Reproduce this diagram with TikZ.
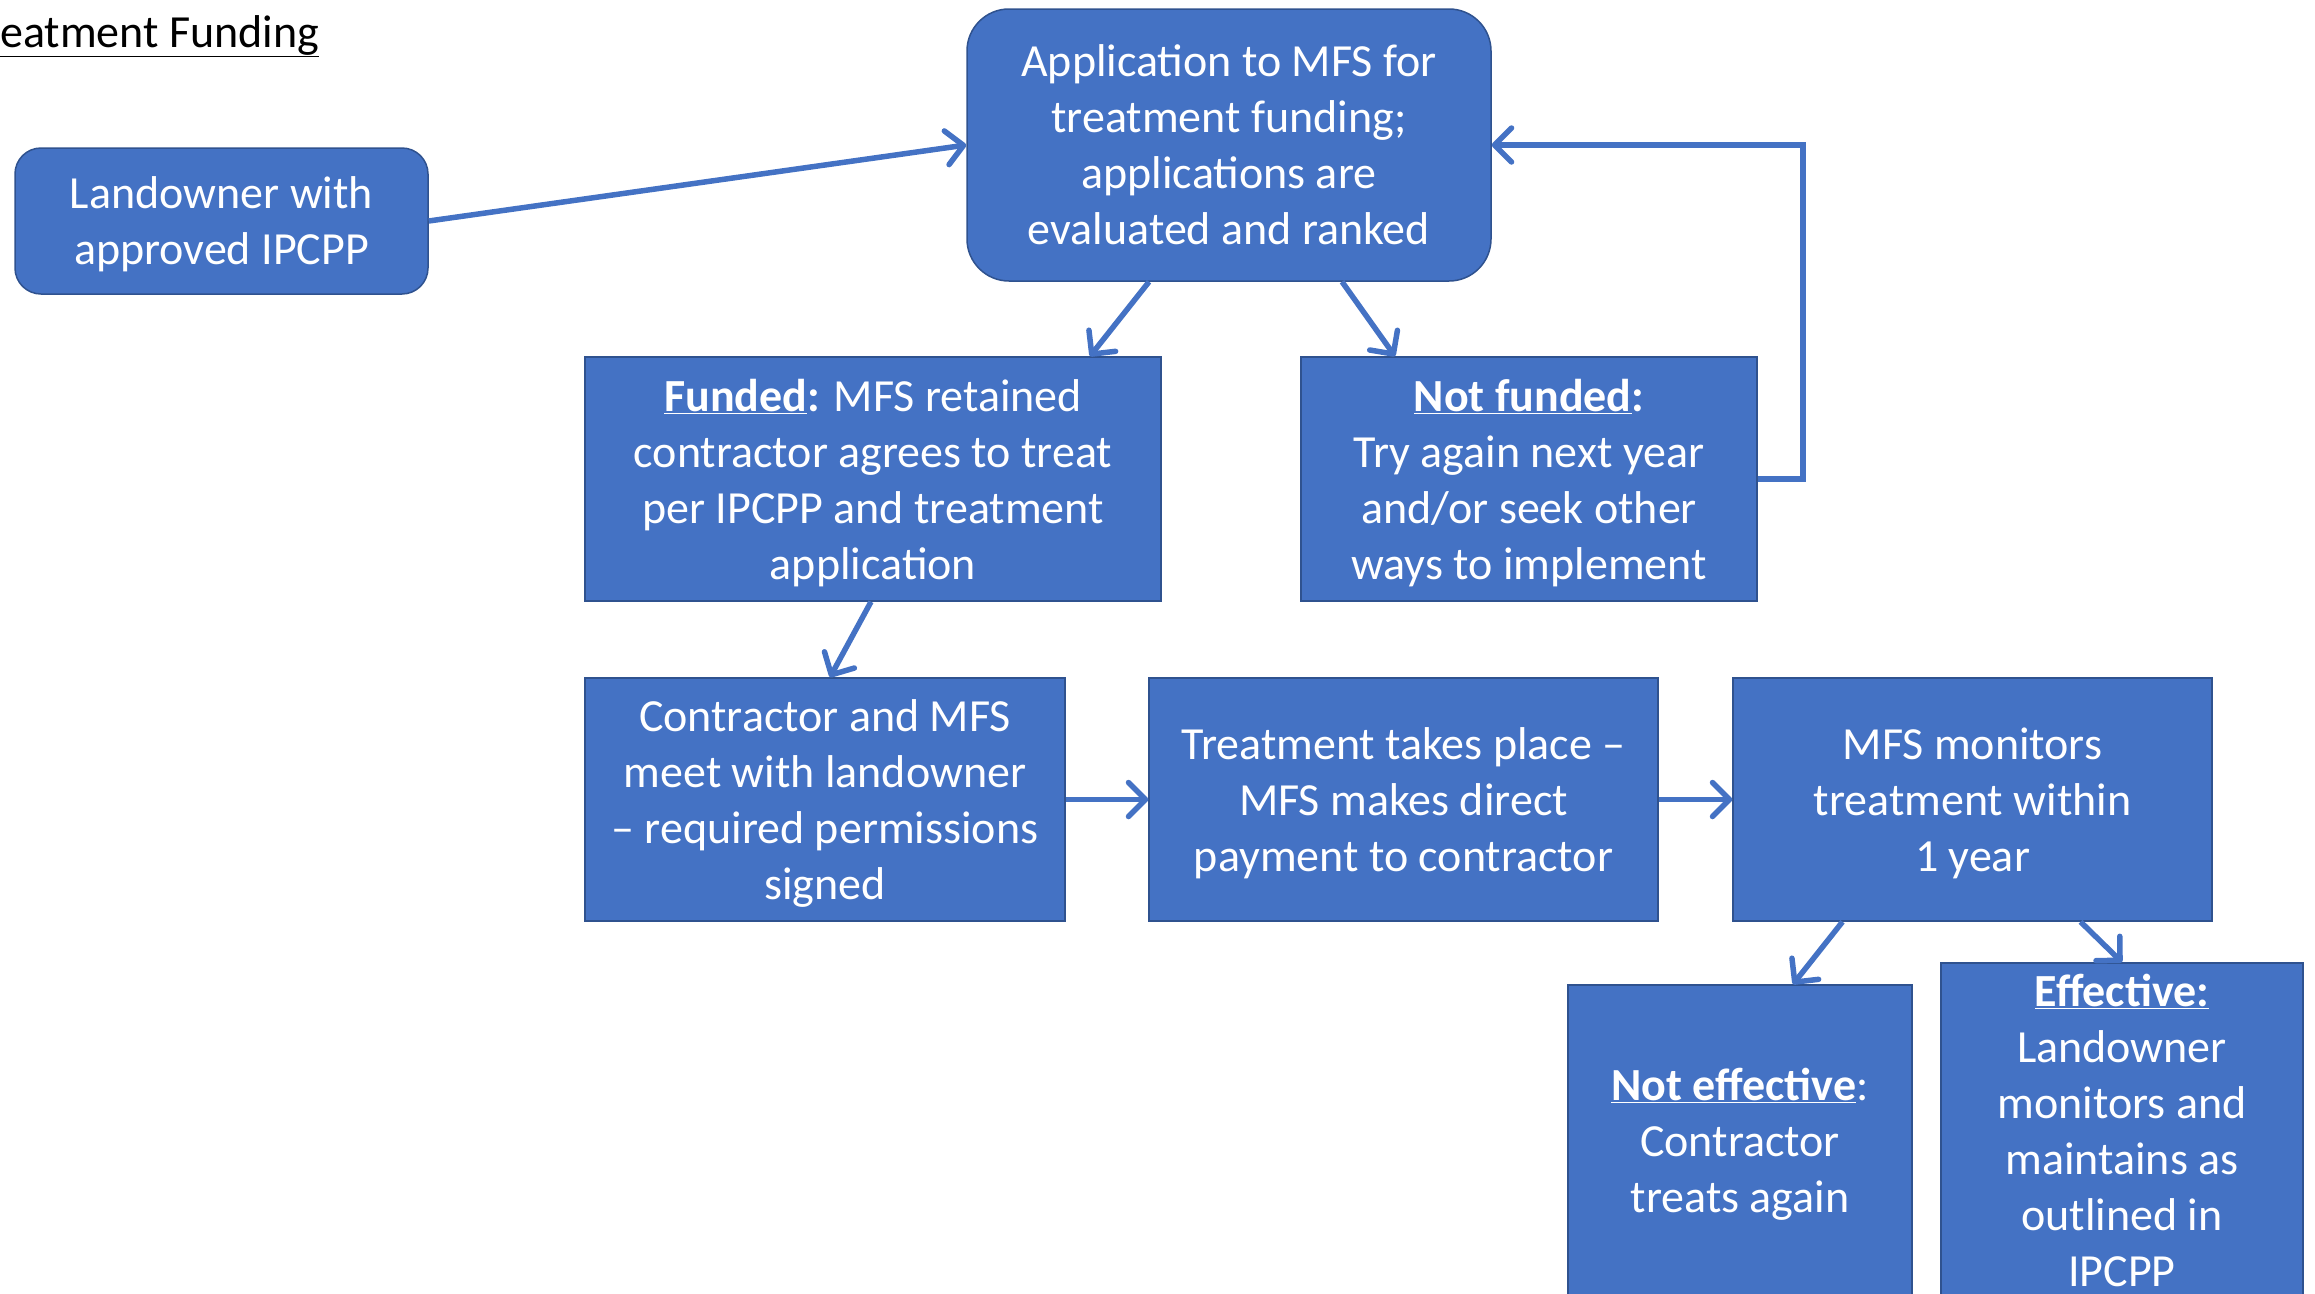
\documentclass[tikz,border=0pt]{standalone}
\usepackage{fontspec}
\setmainfont{Carlito}
\usetikzlibrary{arrows.meta}
\definecolor{boxblue}{HTML}{4472C4}
\definecolor{edgeblue}{HTML}{2F528F}
\tikzset{
  box/.style={rectangle, fill=boxblue, draw=edgeblue, line width=1.5pt, text=white,
    align=center, inner sep=0pt, text depth=0pt, font=\fontsize{46}{56}\selectfont},
  rbox/.style={box, rounded corners=#1},
  conn/.style={draw=boxblue, line width=5.5pt,
    -{Straight Barb[length=17pt,width=34pt,round]}},
}
\begin{document}
\begin{tikzpicture}[x=1pt,y=-1pt]
\useasboundingbox (0,0) rectangle (2315,1293);
\begin{scope}
\clip (0,0) rectangle (2315,1293);
\node[anchor=base west, inner sep=0pt, font=\fontsize{46}{56}\selectfont] (title) at (0,47) {\underline{eatment Funding}};

\node[rbox=26pt, minimum width=413pt, minimum height=146pt] (land) at (221.5,221)
  {Landowner with\\approved IPCPP};
\node[rbox=42pt, minimum width=524pt, minimum height=272pt] (app) at (1229,145)
  {Application to MFS for\\treatment funding;\\applications are\\evaluated and ranked};
\node[box, minimum width=576pt, minimum height=244pt] (funded) at (873,479)
  {\underline{\textbf{Funded}}\textbf{:} MFS retained\\contractor agrees to treat\\per IPCPP and treatment\\application};
\node[box, minimum width=456pt, minimum height=244pt] (notf) at (1529,479)
  {\underline{\textbf{Not funded}}\textbf{:}\\Try again next year\\and/or seek other\\ways to implement};
\node[box, minimum width=480pt, minimum height=243pt] (contr) at (825,799.5)
  {Contractor and MFS\\meet with landowner\\– required permissions\\signed};
\node[box, minimum width=509pt, minimum height=243pt] (treat) at (1403.5,799.5)
  {Treatment takes place –\\MFS makes direct\\payment to contractor};
\node[box, minimum width=479pt, minimum height=243pt] (mon) at (1972.5,799.5)
  {MFS monitors\\treatment within\\1 year};
\node[box, minimum width=344pt, minimum height=310pt] (noteff) at (1740,1140)
  {\underline{\textbf{Not effective}}:\\Contractor\\treats again};
\node[box, minimum width=362pt, minimum height=334pt] (eff) at (2122,1130)
  {\underline{\textbf{Effective:}}\\Landowner\\monitors and\\maintains as\\outlined in\\IPCPP};

\coordinate (loop) at (1803,479);

\draw[conn] (land.east) -- (app.west);
\draw[conn] ([xshift=-80pt]app.south) -- ([xshift=217pt]funded.north);
\draw[conn] ([xshift=113pt]app.south) -- ([xshift=-134pt]notf.north);
\draw[conn] ([xshift=-2pt]funded.south) -- ([xshift=5pt]contr.north);
\draw[conn] (contr.east) -- (treat.west);
\draw[conn] (treat.east) -- (mon.west);
\draw[conn] ([xshift=-130pt]mon.south) -- ([xshift=53pt]noteff.north);
\draw[conn] ([xshift=108pt]mon.south) -- (eff.north);
\draw[conn, line join=miter] (notf.east) -- (loop) |- (app.east);
\end{scope}
\end{tikzpicture}
\end{document}
